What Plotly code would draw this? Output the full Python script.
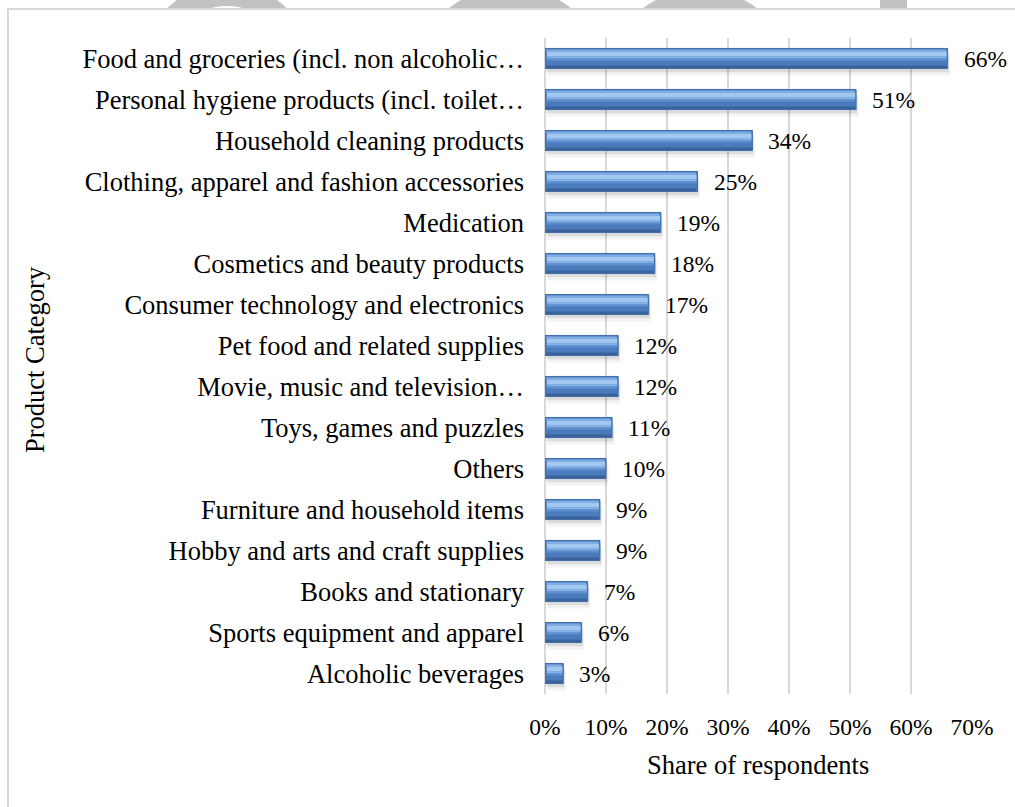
import plotly.graph_objects as go

# Survey results: share of respondents buying each product category
categories = [
    "Alcoholic beverages",
    "Sports equipment and apparel",
    "Books and stationary",
    "Hobby and arts and craft supplies",
    "Furniture and household items",
    "Others",
    "Toys, games and puzzles",
    "Movie, music and television…",
    "Pet food and related supplies",
    "Consumer technology and electronics",
    "Cosmetics and beauty products",
    "Medication",
    "Clothing, apparel and fashion accessories",
    "Household cleaning products",
    "Personal hygiene products (incl. toilet…",
    "Food and groceries (incl. non alcoholic…",
]
shares = [3, 6, 7, 9, 9, 10, 11, 12, 12, 17, 18, 19, 25, 34, 51, 66]
x_ticks = [0, 10, 20, 30, 40, 50, 60, 70]
x_tick_text = [f"{t}%" for t in x_ticks]

W, H = 1015, 807
M_L, M_R, M_T, M_B = 545, 43, 38, 113
PW, PH = W - M_L - M_R, H - M_T - M_B
FONT = "Liberation Serif, Times New Roman, serif"


def px_x(x):
    return (x - M_L) / PW


def px_y(y):
    return (H - M_B - y) / PH


BAR_W = 0.49
half = BAR_W / 2
ROW_PX = PH / len(categories)

fig = go.Figure()


def layer(x, base, top_px, bottom_px, color, name=None):
    """Horizontal band of each bar, given in pixels below the bar's top edge."""
    width = (bottom_px - top_px) / ROW_PX
    offset = half - bottom_px / ROW_PX
    fig.add_trace(go.Bar(
        y=categories, x=x, base=base, orientation="h",
        width=width, offset=offset,
        marker=dict(color=color, line=dict(width=0)),
        hoverinfo="skip" if name is None else None,
        name=name, showlegend=False,
    ))


# soft drop shadow under each bar
fig.add_trace(go.Bar(
    y=categories, x=shares, base=0.4, orientation="h",
    width=BAR_W, offset=-half - 0.17,
    marker=dict(color="rgba(0,0,0,0.05)", line=dict(width=0)),
    hoverinfo="skip", showlegend=False,
))
fig.add_trace(go.Bar(
    y=categories, x=shares, base=0.2, orientation="h",
    width=BAR_W, offset=-half - 0.09,
    marker=dict(color="rgba(0,0,0,0.09)", line=dict(width=0)),
    hoverinfo="skip", showlegend=False,
))

# main bar body
fig.add_trace(go.Bar(
    y=categories, x=shares, orientation="h",
    width=BAR_W, offset=-half,
    marker=dict(color="#4a7bbd", line=dict(color="#3f6ca8", width=1)),
    name="Share of respondents", showlegend=False,
))

# shading bands, top to bottom
inner = [max(v - 0.45, 0.3) for v in shares]
layer(inner, 0.2, 1, 3, "#7dabe3")
layer(inner, 0.3, 3, 8, "#a2c8f1")
layer(inner, 0.3, 8, 10, "#86b3e8")
layer(inner, 0.25, 10, 12, "#5f90d0")
layer([max(v - 0.3, 0.3) for v in shares], 0.15, 17, 19.5, "#3a6399")

annotations = []
for c, v in zip(categories, shares):
    annotations.append(dict(
        x=v, y=c, xref="x", yref="y", text=f"{v}%", showarrow=False,
        xanchor="left", yanchor="middle", xshift=14,
        font=dict(family=FONT, size=23.5, color="black"),
    ))
annotations.append(dict(
    x=px_x(758), y=px_y(765), xref="paper", yref="paper",
    text="Share of respondents", showarrow=False,
    xanchor="center", yanchor="middle",
    font=dict(family=FONT, size=26.5, color="black"),
))
annotations.append(dict(
    x=px_x(35), y=px_y(360), xref="paper", yref="paper",
    text="Product Category", showarrow=False, textangle=-90,
    xanchor="center", yanchor="middle",
    font=dict(family=FONT, size=26.5, color="black"),
))

WM = "#c2c2c2"
shapes = [
    # faint page artwork peeking above the chart frame
    dict(type="circle", xref="paper", yref="paper", layer="below",
         x0=px_x(227 - 86), x1=px_x(227 + 86), y0=px_y(70 - 86), y1=px_y(70 + 86),
         fillcolor=WM, line=dict(width=0)),
    dict(type="circle", xref="paper", yref="paper", layer="below",
         x0=px_x(227 - 64), x1=px_x(227 + 64), y0=px_y(70 - 64), y1=px_y(70 + 64),
         fillcolor="white", line=dict(width=0)),
    dict(type="circle", xref="paper", yref="paper", layer="below",
         x0=px_x(510 - 99), x1=px_x(510 + 99), y0=px_y(86 - 99), y1=px_y(86 + 99),
         fillcolor=WM, line=dict(width=0)),
    dict(type="circle", xref="paper", yref="paper", layer="below",
         x0=px_x(700 - 94), x1=px_x(700 + 94), y0=px_y(83 - 94), y1=px_y(83 + 94),
         fillcolor=WM, line=dict(width=0)),
    dict(type="rect", xref="paper", yref="paper", layer="below",
         x0=px_x(880), x1=px_x(907), y0=px_y(-5), y1=px_y(12),
         fillcolor=WM, line=dict(width=0)),
    # chart frame
    dict(type="rect", xref="paper", yref="paper", layer="below",
         x0=px_x(8), x1=px_x(1040), y0=px_y(9), y1=px_y(840),
         fillcolor="white", line=dict(color="#d9d9d9", width=2)),
]

fig.update_layout(
    width=W, height=H,
    margin=dict(l=M_L, r=M_R, t=M_T, b=M_B, autoexpand=False),
    barmode="overlay",
    paper_bgcolor="white", plot_bgcolor="rgba(0,0,0,0)",
    font=dict(family=FONT, color="black"),
    annotations=annotations,
    shapes=shapes,
    showlegend=False,
)
fig.update_xaxes(
    range=[0, 70], tickvals=x_ticks, ticktext=x_tick_text,
    showgrid=True, gridcolor="#d9d9d9", gridwidth=2,
    zeroline=True, zerolinecolor="#d9d9d9", zerolinewidth=2,
    showline=False, ticks="", ticklabelstandoff=16,
    tickfont=dict(family=FONT, size=23.5, color="black"),
    fixedrange=True, automargin=False,
)
fig.update_yaxes(
    categoryorder="array", categoryarray=categories,
    range=[-0.5, len(categories) - 0.5],
    showgrid=False, zeroline=False, showline=False,
    ticks="", ticklabelstandoff=20,
    tickfont=dict(family=FONT, size=26.5, color="black"),
    fixedrange=True, automargin=False,
)

fig.write_html("out.html")
